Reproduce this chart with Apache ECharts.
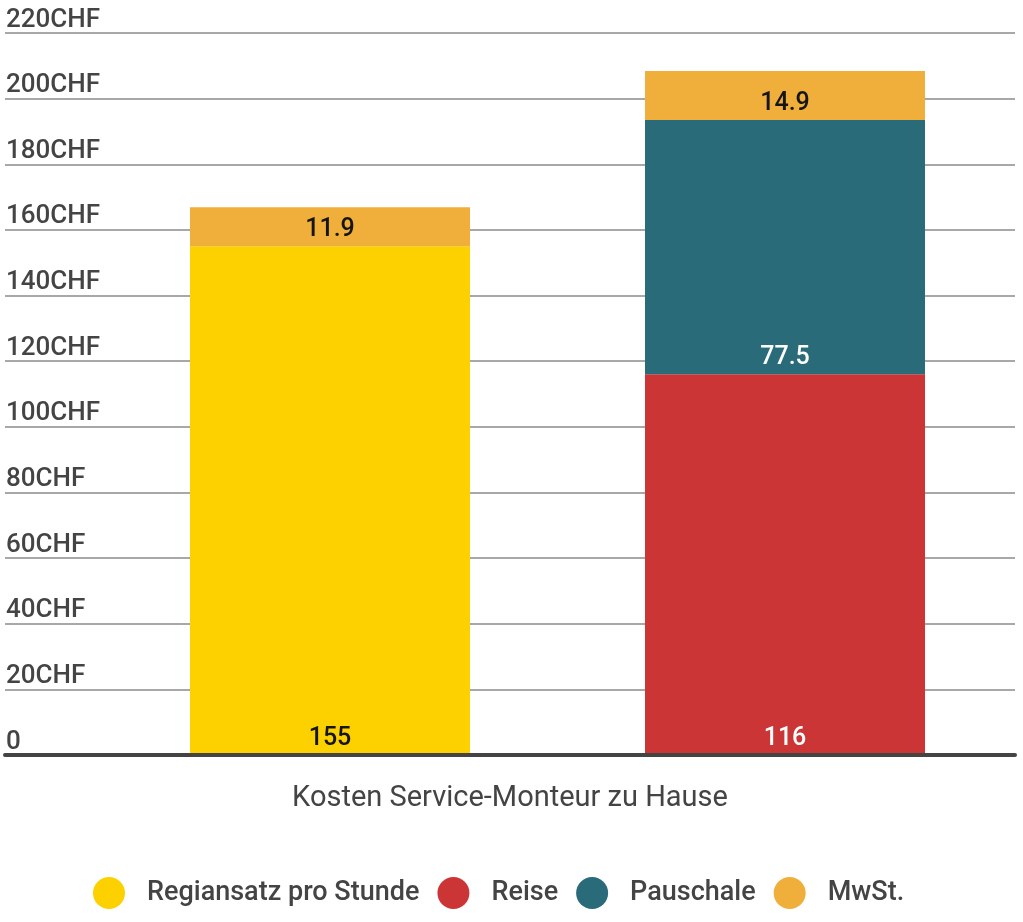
<!DOCTYPE html>
<html><head><meta charset="utf-8">
<script src="https://cdn.jsdelivr.net/npm/echarts@6/dist/echarts.min.js"></script>
<style>html,body{margin:0;padding:0;background:#fff}#c{width:1023px;height:922px}</style>
</head><body><div id="c"></div>
<script>
var categoryLabel = ['Kosten Service-Monteur zu Hause'];
var stacks = ['A', 'B'];
var regiansatz = [155, '-'];
var reise = ['-', 116];
var pauschale = ['-', 77.5];
var mwst = [11.9, 14.9];
var yTicks = [0, 20, 40, 60, 80, 100, 120, 140, 160, 180, 200, 220];

var chart = echarts.init(document.getElementById('c'), null, {renderer: 'canvas'});
var FONT = 'Roboto';
function lbl(color) {
  return {show: true, position: 'insideBottom', distance: 4, color: color,
    fontFamily: FONT, fontSize: 25, fontWeight: 500,
    formatter: function (p) { return p.value; }};
}
chart.setOption({
  animation: false,
  backgroundColor: '#fff',
  grid: [
    {left: 5, right: 8, top: 33, bottom: 167, containLabel: false},
    {left: 102.5, right: 10.5, top: 33, bottom: 167, containLabel: false}
  ],
  xAxis: [
    {type: 'category', gridIndex: 0, data: categoryLabel, z: 5,
      axisLine: {show: true, lineStyle: {color: '#444', width: 4}},
      axisTick: {show: false},
      axisLabel: {margin: 29, color: '#444', fontFamily: FONT, fontSize: 29}},
    {type: 'category', gridIndex: 1, data: stacks, show: false}
  ],
  yAxis: [
    {type: 'value', gridIndex: 0, min: yTicks[0], max: yTicks[yTicks.length - 1], interval: 20,
      axisLine: {show: false}, axisTick: {show: false},
      splitLine: {lineStyle: {color: '#a8a8a8', width: 2}},
      axisLabel: {inside: true, margin: 1, verticalAlign: 'bottom', align: 'left',
        color: '#444', fontFamily: FONT, fontSize: 26, fontWeight: 500,
        formatter: function (v) { return v === 0 ? '0' : v + 'CHF'; }}},
    {type: 'value', gridIndex: 1, min: 0, max: 220, show: false}
  ],
  legend: {
    left: 88, bottom: 8, icon: 'circle', itemWidth: 32, itemHeight: 32, itemGap: 18,
    data: ['Regiansatz pro Stunde', 'Reise', 'Pauschale', 'MwSt.'],
    textStyle: {color: '#444', fontFamily: FONT, fontSize: 27, fontWeight: 500, padding: [0, 0, 0, 17]}
  },
  series: [
    {name: 'Regiansatz pro Stunde', type: 'bar', stack: 't', xAxisIndex: 1, yAxisIndex: 1,
      barWidth: 280, data: regiansatz, itemStyle: {color: '#FDD000'}, label: lbl('#151515')},
    {name: 'Reise', type: 'bar', stack: 't', xAxisIndex: 1, yAxisIndex: 1,
      barWidth: 280, data: reise, itemStyle: {color: '#CC3535'}, label: lbl('#ffffff')},
    {name: 'Pauschale', type: 'bar', stack: 't', xAxisIndex: 1, yAxisIndex: 1,
      barWidth: 280, data: pauschale, itemStyle: {color: '#2A6B7A'}, label: lbl('#ffffff')},
    {name: 'MwSt.', type: 'bar', stack: 't', xAxisIndex: 1, yAxisIndex: 1,
      barWidth: 280, data: mwst, itemStyle: {color: '#F0AE3A'}, label: lbl('#151515')}
  ]
});
</script></body></html>
